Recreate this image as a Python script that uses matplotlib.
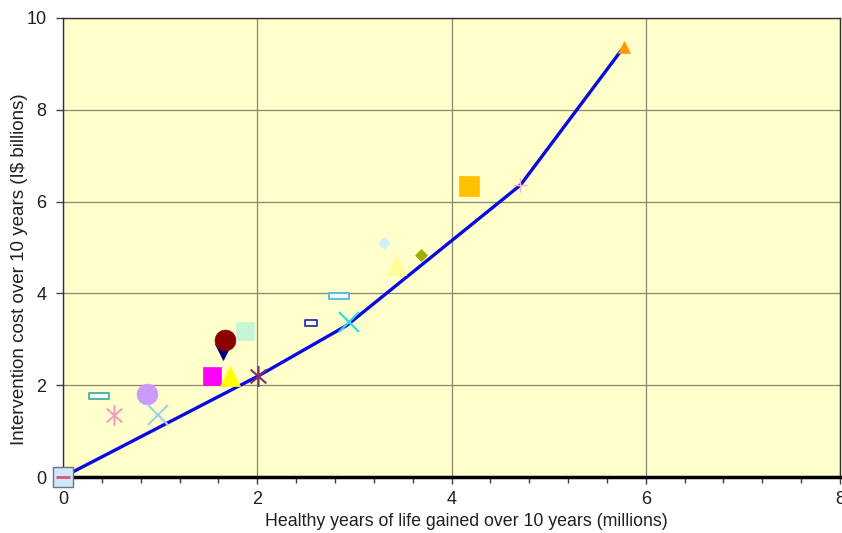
import matplotlib
matplotlib.use("Agg")
import matplotlib.pyplot as plt
from matplotlib.path import Path
from matplotlib.ticker import MultipleLocator

plt.rcParams['font.family'] = ['Liberation Sans', 'DejaVu Sans']

# Frontier (expansion path) line
frontier_x = [0.0, 2.01, 2.92, 4.71, 5.75]
frontier_y = [0.0, 2.20, 3.30, 6.36, 9.30]

# Individual interventions (x: healthy years gained, millions; y: cost, I$ billions)
point_x = [0.37, 0.52, 0.86, 0.98, 1.53, 1.72, 1.65, 1.67, 1.87, 2.01,
           2.55, 2.94, 2.84, 3.30, 3.43, 3.69, 4.18, 4.71, 5.78]
point_y = [1.76, 1.35, 1.81, 1.35, 2.20, 2.20, 2.72, 2.98, 3.18, 2.20,
           3.35, 3.38, 3.94, 5.10, 4.62, 4.84, 6.34, 6.36, 9.37]

x_ticks = [0, 2, 4, 6, 8]
y_ticks = [0, 2, 4, 6, 8, 10]

rect = Path([(-1.5, -0.5), (1.5, -0.5), (1.5, 0.5), (-1.5, 0.5), (-1.5, -0.5)],
            [Path.MOVETO, Path.LINETO, Path.LINETO, Path.LINETO, Path.CLOSEPOLY])
rect2 = Path([(-1.0, -0.5), (1.0, -0.5), (1.0, 0.5), (-1.0, 0.5), (-1.0, -0.5)],
             [Path.MOVETO, Path.LINETO, Path.LINETO, Path.LINETO, Path.CLOSEPOLY])
asterisk = Path([(0, -1), (0, 1), (-0.75, -0.66), (0.75, 0.66), (-0.75, 0.66), (0.75, -0.66)],
                [Path.MOVETO, Path.LINETO, Path.MOVETO, Path.LINETO, Path.MOVETO, Path.LINETO])

# style per point (marker, size, facecolor, edgecolor, edgewidth)
styles = [
    (rect, 14, '#f4fbf0', '#40b0a0', 1.3),
    (asterisk, 15, 'none', '#f0a0c0', 1.5),
    ('o', 15, '#cc99ff', '#cc99ff', 0.5),
    ('x', 15, 'none', '#a8d0e8', 1.6),
    ('s', 13, '#ff00ff', '#ff00ff', 0.5),
    ('^', 15, '#ffff00', '#ffff00', 0.5),
    ('v', 12, '#000080', '#000080', 0.5),
    ('o', 15, '#8b0000', '#8b0000', 0.5),
    ('s', 13, '#c8f5d8', '#c8f5d8', 0.5),
    (asterisk, 15, 'none', '#803060', 1.5),
    (rect2, 8, '#f4f4ff', '#3333aa', 1.3),
    ('x', 15, 'none', '#30d8f0', 1.6),
    (rect, 14, '#f0fbff', '#50b8e0', 1.3),
    ('D', 6, '#d0f0ff', '#d0f0ff', 0.5),
    ('^', 14, '#ffff99', '#ffff99', 0.5),
    ('D', 6, '#99b000', '#99b000', 0.5),
    ('s', 14, '#ffc000', '#ffc000', 0.5),
    ('+', 10, 'none', '#f0b0cc', 1.0),
    ('^', 8, '#ff9900', '#ff9900', 0.5),
]

fig = plt.figure(figsize=(8.42, 5.33), dpi=100)
ax = fig.add_axes([63/842, 1-477/533, (840-63)/842, (477-18)/533])
ax.set_facecolor('#ffffcc')

ax.set_xlim(0, 8)
ax.set_ylim(0, 10)
ax.set_xticks(x_ticks)
ax.set_yticks(y_ticks)
ax.xaxis.set_minor_locator(MultipleLocator(0.4))
ax.grid(True, which='major', color='#8c8670', linewidth=0.9)
ax.set_axisbelow(True)

ax.plot(frontier_x, frontier_y, color='#0a0ae0', linewidth=2.4, zorder=3, solid_capstyle='round')

for x, y, (m, s, fc, ec, ew) in zip(point_x, point_y, styles):
    ax.plot([x], [y], linestyle='none', marker=m, markersize=s,
            markerfacecolor=fc, markeredgecolor=ec, markeredgewidth=ew, zorder=4)

# markers at the origin
ax.plot([0], [0], linestyle='none', marker='s', markersize=14, markerfacecolor='#cfe8f8',
        markeredgecolor='#707080', markeredgewidth=1.0, zorder=5, clip_on=False)
ax.plot([0], [0], linestyle='none', marker='_', markersize=10, markeredgecolor='#e05080',
        markeredgewidth=2.0, zorder=6, clip_on=False)

for side in ['top', 'right', 'left']:
    ax.spines[side].set_color('#303030')
    ax.spines[side].set_linewidth(1.0)
ax.spines['bottom'].set_color('black')
ax.spines['bottom'].set_linewidth(2.5)

ax.tick_params(axis='both', which='major', labelsize=13, length=5, width=1, color='#404040',
               labelcolor='#202020')
ax.tick_params(axis='x', which='minor', length=4, width=1, color='#404040')
ax.tick_params(axis='x', which='major', pad=5)
ax.tick_params(axis='y', which='major', pad=7)

ax.set_xlabel('Healthy years of life gained over 10 years (millions)', fontsize=12.8,
              color='#202020')
ax.set_ylabel('Intervention cost over 10 years (I$ billions)', fontsize=13.5,
              color='#202020')
ax.xaxis.set_label_coords(0.519, -0.079)
ax.yaxis.set_label_coords(-0.045, 0.453)

fig.savefig('out.png', dpi=100, facecolor='white')
